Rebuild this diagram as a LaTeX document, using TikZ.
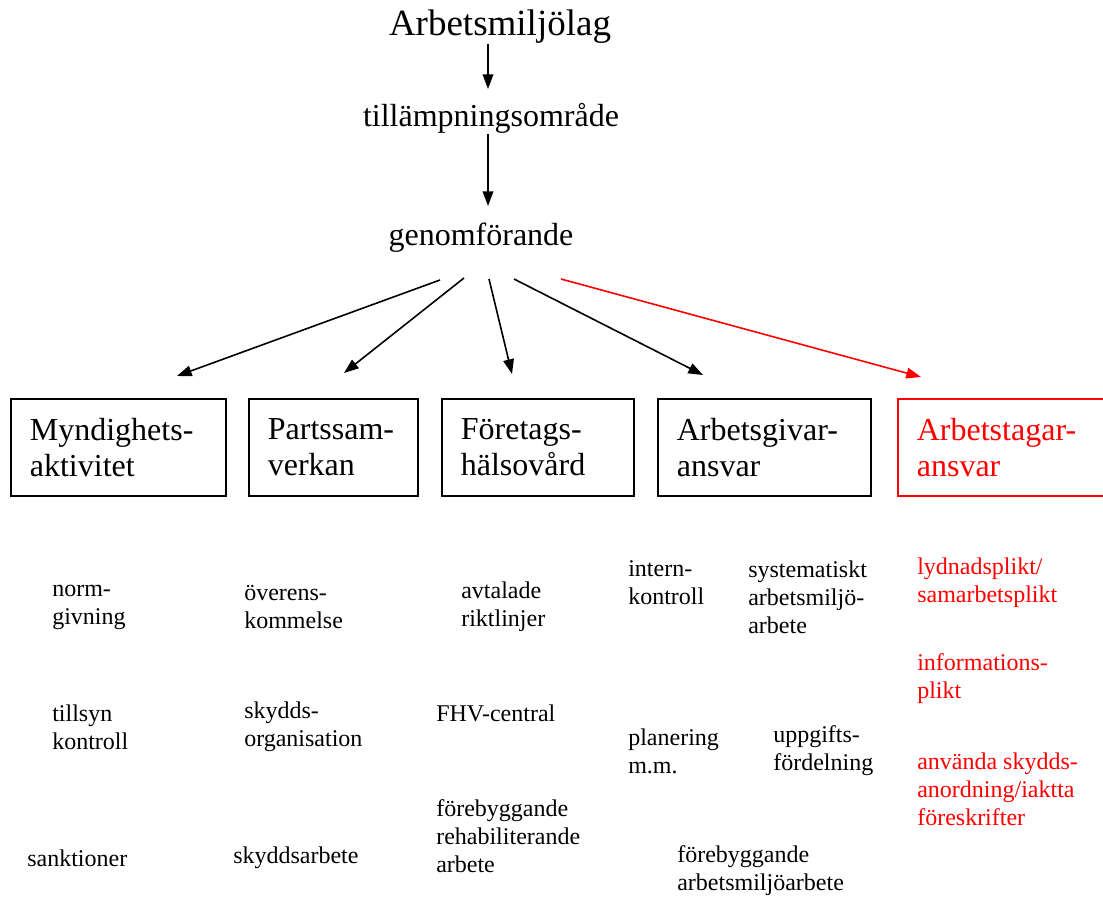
\documentclass[tikz,border=0pt]{standalone}
\usepackage{fontspec}
\setmainfont{Liberation Serif}
\newfontfamily\tnr{Liberation Serif}
\usetikzlibrary{arrows.meta}
\definecolor{myred}{RGB}{255,0,0}
\begin{document}
\begin{tikzpicture}[x=0.75pt,y=-0.75pt,
  title/.style={inner sep=0pt,font=\tnr\fontsize{27.75}{32}\selectfont},
  mid/.style={inner sep=0pt,font=\tnr\fontsize{24}{28}\selectfont},
  boxtxt/.style={draw,line width=1.3pt,minimum height=72.75pt,anchor=north west,align=left,inner xsep=14.25pt,inner ysep=0pt,font=\tnr\fontsize{24}{27}\selectfont},
  small/.style={inner sep=0pt,anchor=west,align=left,font=\tnr\fontsize{18}{21}\selectfont},
  arr/.style={line width=1.2pt,-{Triangle[length=11pt,width=8pt]}},
  redc/.style={color=myred}]
\useasboundingbox (0,0) rectangle (1103,898);
% top chain
\node[title] (t) at (500,27) {Arbetsmiljölag};
\node[mid] (ti) at (491,118) {tillämpningsområde};
\node[mid] (g) at (481,238) {genomförande};
\coordinate (t1) at (488,44);
\coordinate (t2) at (488,89);
\coordinate (t3) at (488,134);
\coordinate (t4) at (488,206);
\draw[arr] (t1) -- (t2);
\draw[arr] (t3) -- (t4);
% boxes
\node[boxtxt,minimum width=161.25pt,text width=132.75pt] (b1) at (10,398) {Myndighets-\\aktivitet};
\node[boxtxt,minimum width=126.75pt,text width=98.25pt] (b2) at (248,398) {Partssam-\\verkan};
\node[boxtxt,minimum width=144pt,text width=115.5pt] (b3) at (441,398) {Företags-\\hälsovård};
\node[boxtxt,minimum width=159.75pt,text width=131.25pt] (b4) at (657,398) {Arbetsgivar-\\ansvar};
\node[boxtxt,draw=myred,text=myred,minimum width=160pt,text width=131.5pt] (b5) at (897,398) {Arbetstagar-\\ansvar};
% arrows from genomförande
\coordinate (s1) at (440,280); \coordinate (e1) at (177,376);
\coordinate (s2) at (464,278); \coordinate (e2) at (344,373);
\coordinate (s3) at (489,279); \coordinate (e3) at (512,374);
\coordinate (s4) at (514,279); \coordinate (e4) at (703,375);
\coordinate (s5) at (561,279); \coordinate (e5) at (921,377);
\draw[arr] (s1) -- (e1);
\draw[arr] (s2) -- (e2);
\draw[arr] (s3) -- (e3);
\draw[arr] (s4) -- (e4);
\draw[arr,redc] (s5) -- (e5);
% column 1
\node[small] (n1) at (52,607) {norm-\\givning};
\node[small] (n2) at (52,727) {tillsyn\\kontroll};
\node[small] (n3) at (27,858) {sanktioner};
% column 2
\node[small] (p1) at (244,607) {överens-\\kommelse};
\node[small] (p2) at (244,727) {skydds-\\organisation};
\node[small] (p3) at (233,858) {skyddsarbete};
% column 3
\node[small] (f1) at (461,607) {avtalade\\riktlinjer};
\node[small] (f2) at (436,713) {FHV-central};
\node[small] (f3) at (436,836) {förebyggande\\rehabiliterande\\arbete};
% column 4
\node[small] (a1) at (628,583) {intern-\\kontroll};
\node[small] (a2) at (748,597) {systematiskt\\arbetsmiljö-\\arbete};
\node[small] (a3) at (628,751) {planering\\m.m.};
\node[small] (a4) at (773,751) {uppgifts-\\fördelning};
\node[small] (a5) at (677,871) {förebyggande\\arbetsmiljöarbete};
% column 5 (red)
\node[small,redc] (r1) at (917,583) {lydnadsplikt/\\samarbetsplikt};
\node[small,redc] (r2) at (917,679) {informations-\\plikt};
\node[small,redc] (r3) at (917,789) {använda skydds-\\anordning/iaktta\\föreskrifter};
\end{tikzpicture}
\end{document}
